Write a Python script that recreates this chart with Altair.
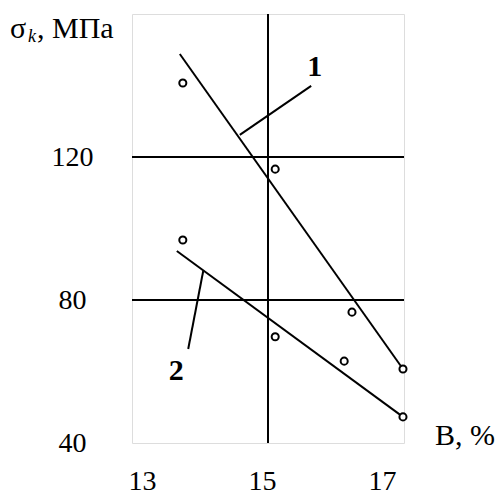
import altair as alt
import pandas as pd

# Measured points for the two series (В, % vs σk, МПа)
b1 = [13.58, 15.12, 16.40, 17.25]
s1 = [140.7, 116.6, 76.6, 60.7]
b2 = [13.58, 15.12, 16.27, 17.25]
s2 = [96.8, 69.7, 62.9, 47.3]

# Trend lines, given by their end points
fit1_b = [13.53, 17.25]
fit1_s = [148.8, 60.7]
fit2_b = [13.48, 17.25]
fit2_s = [93.7, 47.3]

# Curve numbers and their leader lines
curve_names = ["1", "2"]
name_b = [15.78, 13.47]
name_s = [145.2, 60.1]
leader_b = [15.72, 13.67]
leader_s = [139.9, 66.3]
leader_b2 = [14.53, 13.92]
leader_s2 = [126.2, 88.1]

# Axis ticks and grid lines
x_ticks = [13, 15, 17]
y_ticks = [40, 80, 120]
grid_x = [15]
grid_y = [80, 120]

FONT = "Liberation Serif"
W, H = 272, 429

pts = pd.DataFrame({
    "b": b1 + b2,
    "s": s1 + s2,
    "curve": ["1"] * len(b1) + ["2"] * len(b2),
})
fits = pd.DataFrame({
    "b": fit1_b + fit2_b,
    "s": fit1_s + fit2_s,
    "curve": ["1"] * 2 + ["2"] * 2,
})
names = pd.DataFrame({"b": name_b, "s": name_s, "t": curve_names})
leaders = pd.DataFrame({"b": leader_b, "s": leader_s, "b2": leader_b2, "s2": leader_s2})
gx = pd.DataFrame({"b": grid_x})
gy = pd.DataFrame({"s": grid_y})

xs = alt.Scale(domain=[12.733, 17.267], nice=False, zero=False)
ys = alt.Scale(domain=[40, 160], nice=False, zero=False)

x_axis = alt.Axis(values=x_ticks, format="d", grid=False, domain=False, ticks=False, tickSize=0,
                  labelFont=FONT, labelFontSize=28, labelColor="black",
                  labelPadding=24, labelOffset=-6, labelFlush=False,
                  labelOverlap=False, title=None)
y_axis = alt.Axis(values=y_ticks, format="d", grid=False, domain=False, ticks=False, tickSize=0,
                  labelFont=FONT, labelFontSize=28, labelColor="black",
                  labelAlign="center", labelBaseline="middle", labelPadding=60,
                  labelFlush=False, labelOverlap=False, title=None)

v_grid = alt.Chart(gx).mark_rule(color="black", strokeWidth=2).encode(
    x=alt.X("b:Q", scale=xs, axis=x_axis),
)
h_grid = alt.Chart(gy).mark_rule(color="black", strokeWidth=2).encode(
    y=alt.Y("s:Q", scale=ys, axis=y_axis),
)

fit_lines = alt.Chart(fits).mark_line(color="black", strokeWidth=2).encode(
    x=alt.X("b:Q", scale=xs),
    y=alt.Y("s:Q", scale=ys),
    detail="curve:N",
)

lead = alt.Chart(leaders).mark_rule(color="black", strokeWidth=2).encode(
    x=alt.X("b:Q", scale=xs), y=alt.Y("s:Q", scale=ys),
    x2="b2:Q", y2="s2:Q",
)

dots = alt.Chart(pts).mark_point(shape="circle", size=50, filled=False,
                                 fill="white", fillOpacity=1,
                                 stroke="black", strokeWidth=2, opacity=1).encode(
    x=alt.X("b:Q", scale=xs),
    y=alt.Y("s:Q", scale=ys),
)

labels = alt.Chart(names).mark_text(font=FONT, fontSize=30, fontWeight="bold",
                                    color="black", baseline="middle", align="center").encode(
    x=alt.X("b:Q", scale=xs),
    y=alt.Y("s:Q", scale=ys),
    text="t:N",
)

# Axis titles, σ with an italic subscript k
t_sigma = alt.Chart(pd.DataFrame({"t": ["σ"]})).mark_text(
    font=FONT, fontSize=30, color="black", align="left", baseline="alphabetic"
).encode(x=alt.value(-122), y=alt.value(24), text="t:N")
t_k = alt.Chart(pd.DataFrame({"t": ["k"]})).mark_text(
    font=FONT, fontSize=18, fontStyle="italic", color="black", align="left", baseline="alphabetic"
).encode(x=alt.value(-104), y=alt.value(28), text="t:N")
t_unit = alt.Chart(pd.DataFrame({"t": [", МПа"]})).mark_text(
    font=FONT, fontSize=30, color="black", align="left", baseline="alphabetic"
).encode(x=alt.value(-95), y=alt.value(24), text="t:N")
t_b = alt.Chart(pd.DataFrame({"t": ["В, %"]})).mark_text(
    font=FONT, fontSize=30, color="black", align="left", baseline="alphabetic"
).encode(x=alt.value(303), y=alt.value(431), text="t:N")

chart = alt.layer(
    v_grid, h_grid, fit_lines, lead, dots, labels, t_sigma, t_k, t_unit, t_b
).properties(
    width=W, height=H,
    autosize=alt.AutoSizeParams(type="none"),
    padding={"left": 132, "top": 14, "right": 97, "bottom": 53},
).configure_view(
    stroke="black", strokeWidth=2.5
).configure(background="white")

chart.save("out.html", embed_options={"renderer": "svg", "actions": False})
